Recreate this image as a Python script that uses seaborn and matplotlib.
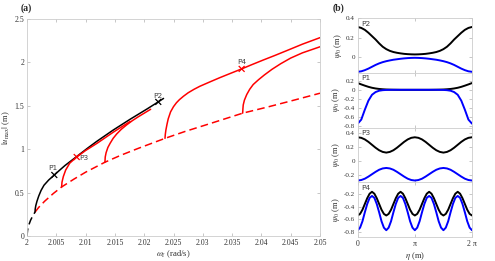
import numpy as np
import seaborn as sns
import matplotlib
matplotlib.use("Agg")
import matplotlib.pyplot as plt

# ---- panel (a): response curves, |u_max| vs forcing frequency ----
BLACK_DASH_W = [2.0, 2.0001, 2.0003, 2.0006, 2.001, 2.00137]
BLACK_DASH_U = [0.0, 0.07, 0.125, 0.18, 0.235, 0.275]

RED_DASH_W = [2.00137, 2.002, 2.003, 2.0045, 2.00591, 2.008, 2.010, 2.0133, 2.016,
              2.019, 2.02355, 2.027, 2.031, 2.0368, 2.041, 2.045, 2.05]
RED_DASH_U = [0.275, 0.33, 0.40, 0.49, 0.565, 0.655, 0.735, 0.85, 0.93,
              1.01, 1.125, 1.205, 1.29, 1.415, 1.485, 1.555, 1.645]

BLACK_W = [2.00137, 2.0014, 2.0015, 2.0017, 2.0020, 2.0024, 2.0029, 2.0037, 2.00466, 2.0056,
           2.00648, 2.0076, 2.00876, 2.0103, 2.0119, 2.0147, 2.0176, 2.0204, 2.0224, 2.0233]
BLACK_U = [0.275, 0.31, 0.35, 0.40, 0.46, 0.525, 0.585, 0.645, 0.703, 0.76,
           0.812, 0.87, 0.93, 1.01, 1.09, 1.22, 1.345, 1.46, 1.545, 1.585]

RED1_W = [2.00591, 2.00597, 2.0062, 2.0066, 2.0073, 2.00848, 2.0100, 2.0120, 2.0147, 2.0176]
RED1_U = [0.565, 0.62, 0.685, 0.76, 0.84, 0.91, 0.985, 1.07, 1.195, 1.32]

RED2_W = [2.0133, 2.01335, 2.0135, 2.0138, 2.0142, 2.0147, 2.0153, 2.0161, 2.0170,
          2.0180, 2.0190, 2.0200, 2.0211]
RED2_U = [0.85, 0.91, 0.96, 1.02, 1.07, 1.125, 1.175, 1.23, 1.28,
          1.33, 1.374, 1.415, 1.46]

RED3_W = [2.02355, 2.0236, 2.0237, 2.0239, 2.0241, 2.0245, 2.0250, 2.0255, 2.0260, 2.0267,
          2.0275, 2.0285, 2.0295, 2.0312, 2.0329, 2.0347, 2.03663, 2.0384, 2.0403, 2.0423,
          2.0443, 2.0470, 2.0500]
RED3_U = [1.125, 1.17, 1.22, 1.29, 1.35, 1.43, 1.49, 1.535, 1.57, 1.61,
          1.65, 1.69, 1.725, 1.775, 1.824, 1.873, 1.925, 1.975, 2.027, 2.08,
          2.135, 2.21, 2.285]

RED4_W = [2.0368, 2.03685, 2.0369, 2.0371, 2.0375, 2.0380, 2.0386, 2.0395, 2.0405,
          2.0418, 2.0433, 2.0450, 2.0470, 2.0500]
RED4_U = [1.415, 1.47, 1.51, 1.565, 1.63, 1.69, 1.745, 1.80, 1.855,
          1.92, 1.985, 2.05, 2.11, 2.18]

POINT_NAMES = ["P1", "P2", "P3", "P4"]
POINT_W = [2.00466, 2.0224, 2.00848, 2.03663]
POINT_U = [0.703, 1.545, 0.91, 1.925]
POINT_COLORS = ["black", "black", "red", "red"]

X_TICKS = [2, 2.005, 2.01, 2.015, 2.02, 2.025, 2.03, 2.035, 2.04, 2.045, 2.05]
X_TICK_LABELS = ["2", "2.005", "2.01", "2.015", "2.02", "2.025", "2.03", "2.035", "2.04", "2.045", "2.05"]
Y_TICKS = [0, 0.5, 1, 1.5, 2, 2.5]
Y_TICK_LABELS = ["0", "0.5", "1", "1.5", "2", "2.5"]

# ---- panel (b): mode shapes ----
ETA_33 = np.linspace(0, 2 * np.pi, 33)
ETA_49 = np.linspace(0, 2 * np.pi, 49)

P2_BLACK = [0.31, 0.30, 0.28, 0.25, 0.215, 0.18, 0.14, 0.105, 0.08, 0.062, 0.05, 0.042, 0.036,
            0.031, 0.028, 0.026, 0.025, 0.026, 0.028, 0.031, 0.036, 0.042, 0.05, 0.062, 0.08,
            0.105, 0.14, 0.18, 0.215, 0.25, 0.28, 0.30, 0.31]
P2_BLUE = [-0.155, -0.15, -0.138, -0.122, -0.103, -0.084, -0.068, -0.055, -0.045, -0.037, -0.03,
           -0.025, -0.02, -0.016, -0.013, -0.011, -0.01, -0.011, -0.013, -0.016, -0.02, -0.025,
           -0.03, -0.037, -0.045, -0.055, -0.068, -0.084, -0.103, -0.122, -0.138, -0.15, -0.155]

P1_BLACK = [0.15, 0.12, 0.092, 0.066, 0.045, 0.03, 0.019, 0.012, 0.007, 0.004, 0.002, 0.001,
            0.0, 0.0, 0.0, 0.0, 0.0, 0.0, 0.0, 0.0, 0.0, 0.001, 0.002, 0.004, 0.007,
            0.012, 0.019, 0.03, 0.045, 0.066, 0.092, 0.12, 0.15]
P1_BLUE = [-0.75, -0.66, -0.44, -0.24, -0.11, -0.05, -0.02, -0.008, -0.003, -0.001, 0.0, 0.0,
           0.0, 0.0, 0.0, 0.0, 0.0, 0.0, 0.0, 0.0, 0.0, 0.0, 0.0, -0.001, -0.003, -0.008,
           -0.02, -0.05, -0.11, -0.24, -0.44, -0.66, -0.75]

P3_BLACK = [0.34, 0.332, 0.309, 0.274, 0.232, 0.19, 0.154, 0.13, 0.12, 0.13, 0.154, 0.19, 0.232,
            0.274, 0.309, 0.332, 0.34, 0.332, 0.309, 0.274, 0.232, 0.19, 0.154, 0.13, 0.12,
            0.13, 0.154, 0.19, 0.232, 0.274, 0.309, 0.332, 0.34]
P3_BLUE = [-0.28, -0.273, -0.254, -0.224, -0.19, -0.156, -0.126, -0.107, -0.10, -0.107, -0.126,
           -0.156, -0.19, -0.224, -0.254, -0.273, -0.28, -0.273, -0.254, -0.224, -0.19, -0.156,
           -0.126, -0.107, -0.10, -0.107, -0.126, -0.156, -0.19, -0.224, -0.254, -0.273, -0.28]

P4_BLACK = [-0.54, -0.515, -0.45, -0.36, -0.27, -0.20, -0.17, -0.20, -0.27, -0.36, -0.45, -0.515,
            -0.54, -0.515, -0.45, -0.36, -0.27, -0.20, -0.17, -0.20, -0.27, -0.36, -0.45, -0.515,
            -0.54, -0.515, -0.45, -0.36, -0.27, -0.20, -0.17, -0.20, -0.27, -0.36, -0.45, -0.515,
            -0.54, -0.515, -0.45, -0.36, -0.27, -0.20, -0.17, -0.20, -0.27, -0.36, -0.45, -0.515,
            -0.54]
P4_BLUE = [-0.77, -0.73, -0.63, -0.49, -0.36, -0.265, -0.235, -0.265, -0.36, -0.49, -0.63, -0.73,
           -0.77, -0.73, -0.63, -0.49, -0.36, -0.265, -0.235, -0.265, -0.36, -0.49, -0.63, -0.73,
           -0.77, -0.73, -0.63, -0.49, -0.36, -0.265, -0.235, -0.265, -0.36, -0.49, -0.63, -0.73,
           -0.77, -0.73, -0.63, -0.49, -0.36, -0.265, -0.235, -0.265, -0.36, -0.49, -0.63, -0.73,
           -0.77]

PANEL_NAMES = ["P2", "P1", "P3", "P4"]
PANEL_ETA = [ETA_33, ETA_33, ETA_33, ETA_49]
PANEL_BLACK = [P2_BLACK, P1_BLACK, P3_BLACK, P4_BLACK]
PANEL_BLUE = [P2_BLUE, P1_BLUE, P3_BLUE, P4_BLUE]
PANEL_YLIM = [(-0.165, 0.403), (-0.835, 0.378), (-0.305, 0.48), (-0.876, -0.021)]
PANEL_YTICKS = [[0, 0.2, 0.4],
                [-0.8, -0.6, -0.4, -0.2, 0, 0.2],
                [-0.2, 0, 0.2, 0.4],
                [-0.8, -0.6, -0.4, -0.2]]
PANEL_YTICK_LABELS = [["0", "0.2", "0.4"],
                      ["-0.8", "-0.6", "-0.4", "-0.2", "0", "0.2"],
                      ["-0.2", "0", "0.2", "0.4"],
                      ["-0.8", "-0.6", "-0.4", "-0.2"]]
ETA_TICKS = [0, np.pi, 2 * np.pi]
ETA_TICK_LABELS = ["0", "\u03c0", "2 \u03c0"]

sns.set_style("ticks")
plt.rcParams["font.family"] = ["Liberation Serif", "DejaVu Serif"]
plt.rcParams["mathtext.fontset"] = "stix"
plt.rcParams["axes.unicode_minus"] = False
plt.rcParams["lines.scale_dashes"] = False

SPINE = "#cccccc"
TXT = "#333333"
TICK_FS = 5.6
LABEL_FS = 6.2


def style_axes(ax, fs=TICK_FS):
    for s in ax.spines.values():
        s.set_visible(True)
        s.set_color(SPINE)
        s.set_linewidth(0.6)
    ax.tick_params(direction="in", length=2, width=0.5, color="#b0b0b0",
                   labelsize=fs, labelcolor=TXT, pad=2,
                   top=True, right=True)


def line(ax, x, y, color, lw, dashed=False):
    sns.lineplot(x=x, y=y, sort=False, estimator=None, color=color, lw=lw, ax=ax)
    if dashed:
        ax.lines[-1].set_dashes((5.5, 3.0))


fig = plt.figure(figsize=(4.95, 2.61), dpi=100)

# panel (a)
ax = fig.add_axes([27 / 495, 25 / 261, 293 / 495, 217 / 261])
line(ax, BLACK_DASH_W, BLACK_DASH_U, "black", 1.1, dashed=True)
line(ax, RED_DASH_W, RED_DASH_U, "red", 1.1, dashed=True)
line(ax, BLACK_W, BLACK_U, "black", 1.1)
for w, u in [(RED1_W, RED1_U), (RED2_W, RED2_U), (RED3_W, RED3_U), (RED4_W, RED4_U)]:
    line(ax, w, u, "red", 1.1)
sns.scatterplot(x=POINT_W, y=POINT_U, hue=POINT_NAMES, palette=POINT_COLORS, marker="x",
                s=18, linewidth=0.9, legend=False, ax=ax, zorder=5)
label_offsets = {"P1": (-0.0003, 0.085, "center"), "P2": (0.0, 0.07, "center"),
                 "P3": (0.0005, -0.01, "left"), "P4": (0.0, 0.085, "center")}
for name, w, u in zip(POINT_NAMES, POINT_W, POINT_U):
    dx, dy, ha = label_offsets[name]
    ax.text(w + dx, u + dy, name, fontsize=5.4, color="#444444", ha=ha, va="center",
            family=["DejaVu Sans"])
ax.set_xlim(2, 2.05)
ax.set_ylim(0, 2.5)
ax.set_xticks(X_TICKS)
ax.set_xticklabels(X_TICK_LABELS)
ax.set_yticks(Y_TICKS)
ax.set_yticklabels(Y_TICK_LABELS)
style_axes(ax)
ax.set_xlabel(r"$\omega_{\mathrm{f}}$ (rad/s)", fontsize=LABEL_FS, color=TXT, labelpad=1.5)
ax.set_ylabel(r"$|u_{\mathrm{max}}|$ (m)", fontsize=LABEL_FS, color=TXT, labelpad=1.5)
fig.text(21 / 495, 1 - 8 / 261, "(a)", fontsize=7, fontweight="bold", ha="left", va="center")
fig.text(333 / 495, 1 - 8 / 261, "(b)", fontsize=7, fontweight="bold", ha="left", va="center")

# panel (b): four stacked panels
top, bottom = 18, 237
h = (bottom - top) / 4
for i in range(4):
    panel_bottom = 261 - (top + (i + 1) * h)
    bx = fig.add_axes([357.7 / 495, panel_bottom / 261, 114.3 / 495, h / 261])
    line(bx, PANEL_ETA[i], PANEL_BLACK[i], "black", 1.4)
    line(bx, PANEL_ETA[i], PANEL_BLUE[i], "blue", 1.4)
    bx.set_xlim(0, 2 * np.pi)
    bx.set_ylim(*PANEL_YLIM[i])
    bx.set_yticks(PANEL_YTICKS[i])
    bx.set_yticklabels(PANEL_YTICK_LABELS[i])
    bx.set_xticks(ETA_TICKS)
    style_axes(bx, fs=5.1)
    if i == 3:
        bx.set_xticklabels(ETA_TICK_LABELS)
        bx.tick_params(axis="x", labelsize=TICK_FS)
        bx.set_xlabel(r"$\eta$ (m)", fontsize=LABEL_FS, color=TXT, labelpad=1.5)
    else:
        bx.set_xticklabels([])
    bx.set_ylabel(r"$\psi_0$ (m)", fontsize=LABEL_FS, color=TXT, labelpad=1.5)
    bx.text(0.03, 0.95, PANEL_NAMES[i], transform=bx.transAxes, fontsize=5.4,
            color="#444444", ha="left", va="top", family=["DejaVu Sans"])

fig.savefig("out.png", dpi=100)
